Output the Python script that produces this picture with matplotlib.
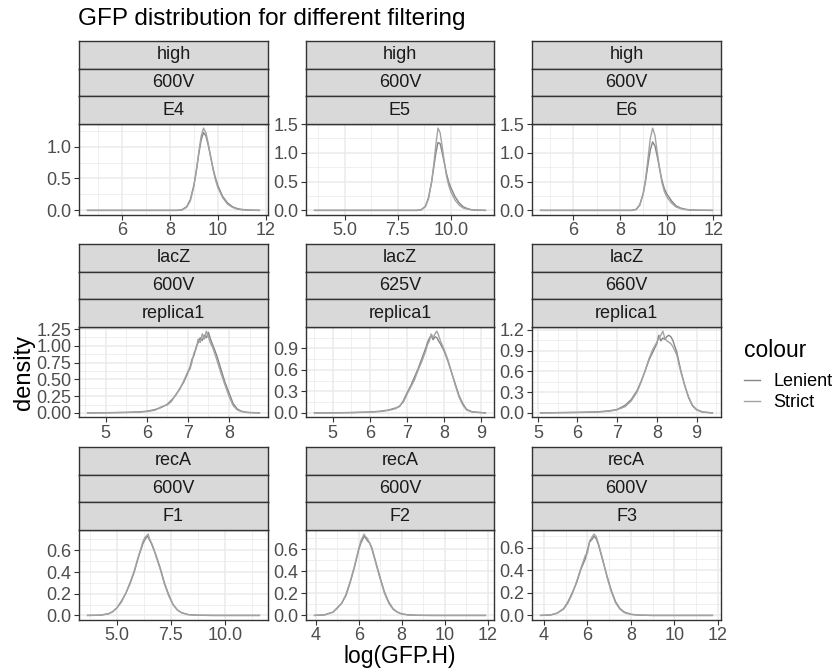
"""
GFP density per strain / voltage / replicate, Lenient vs Strict filtering.
Writes out.png (838x670).
"""
import matplotlib
matplotlib.use("Agg")
import matplotlib.pyplot as plt
from matplotlib.ticker import AutoMinorLocator

plt.rcParams["font.family"] = ["Liberation Sans", "DejaVu Sans"]

# ---------------------------------------------------------------------------
# data (density curves, one x grid per panel)
# ---------------------------------------------------------------------------
strips = [("high", "600V", "E4"), ("high", "600V", "E5"), ("high", "600V", "E6"),
          ("lacZ", "600V", "replica1"), ("lacZ", "625V", "replica1"),
          ("lacZ", "660V", "replica1"),
          ("recA", "600V", "F1"), ("recA", "600V", "F2"), ("recA", "600V", "F3")]

x_e4 = [4.55, 8.3, 8.5, 8.7, 8.85, 9.0, 9.1, 9.2, 9.3, 9.4, 9.5, 9.6, 9.7, 9.8,
        9.9, 10.0, 10.2, 10.4, 10.6, 10.8, 11.0, 11.3, 11.74]
len_e4 = [0, 0, 0.01, 0.06, 0.17, 0.40, 0.62, 0.88, 1.10, 1.22, 1.17, 1.02, 0.84,
          0.66, 0.51, 0.39, 0.22, 0.12, 0.06, 0.03, 0.015, 0.005, 0]
str_e4 = [0, 0, 0.005, 0.05, 0.15, 0.38, 0.62, 0.90, 1.16, 1.29, 1.22, 1.05, 0.84,
          0.64, 0.48, 0.36, 0.20, 0.10, 0.05, 0.02, 0.01, 0.003, 0]

x_e5 = [3.57, 8.4, 8.6, 8.8, 8.95, 9.1, 9.2, 9.3, 9.4, 9.5, 9.6, 9.7, 9.8, 9.9,
        10.0, 10.2, 10.4, 10.6, 10.8, 11.0, 11.3, 11.64]
len_e5 = [0, 0, 0.01, 0.07, 0.22, 0.50, 0.75, 1.00, 1.18, 1.16, 1.00, 0.82, 0.64,
          0.50, 0.40, 0.24, 0.13, 0.06, 0.03, 0.01, 0.004, 0]
str_e5 = [0, 0, 0.008, 0.06, 0.20, 0.50, 0.80, 1.15, 1.43, 1.35, 1.10, 0.84, 0.60,
          0.44, 0.33, 0.18, 0.09, 0.04, 0.02, 0.008, 0.003, 0]

x_e6 = [4.6, 8.5, 8.7, 8.85, 9.0, 9.1, 9.2, 9.3, 9.4, 9.5, 9.6, 9.7, 9.8, 9.9,
        10.0, 10.2, 10.4, 10.6, 10.8, 11.0, 11.4, 11.96]
len_e6 = [0, 0, 0.02, 0.10, 0.30, 0.52, 0.80, 1.05, 1.19, 1.12, 0.93, 0.72, 0.52,
          0.38, 0.29, 0.17, 0.08, 0.04, 0.02, 0.008, 0.002, 0]
str_e6 = [0, 0, 0.015, 0.09, 0.30, 0.55, 0.90, 1.25, 1.43, 1.30, 1.00, 0.72, 0.48,
          0.33, 0.24, 0.13, 0.06, 0.03, 0.015, 0.006, 0.002, 0]

x_l600 = [4.56, 5.0, 5.5, 5.8, 6.0, 6.2, 6.35, 6.5, 6.6, 6.7, 6.8, 6.9, 7.0, 7.05,
          7.1, 7.15, 7.2, 7.25, 7.3, 7.35, 7.4, 7.45, 7.5, 7.55, 7.6, 7.7, 7.8,
          7.9, 8.0, 8.1, 8.2, 8.3, 8.45, 8.74]
len_l600 = [0, 0.003, 0.008, 0.015, 0.025, 0.05, 0.08, 0.13, 0.19, 0.26, 0.36,
            0.46, 0.60, 0.68, 0.80, 0.86, 0.98, 1.05, 1.12, 1.08, 1.16, 1.12, 1.20,
            1.10, 1.02, 0.86, 0.66, 0.46, 0.30, 0.14, 0.06, 0.025, 0.008, 0]
str_l600 = [0, 0.002, 0.006, 0.012, 0.02, 0.04, 0.09, 0.12, 0.17, 0.27, 0.35,
            0.48, 0.62, 0.65, 0.76, 0.90, 0.95, 1.10, 1.05, 1.18, 1.10, 1.22, 1.13,
            1.04, 0.98, 0.80, 0.60, 0.42, 0.25, 0.11, 0.045, 0.02, 0.005, 0]

x_l625 = [4.51, 5.0, 5.5, 6.0, 6.3, 6.5, 6.7, 6.8, 6.9, 7.0, 7.1, 7.2, 7.3, 7.4,
          7.5, 7.55, 7.6, 7.65, 7.7, 7.75, 7.8, 7.85, 7.9, 8.0, 8.1, 8.2, 8.3,
          8.4, 8.5, 8.6, 8.75, 9.11]
len_l625 = [0, 0.002, 0.005, 0.012, 0.025, 0.04, 0.07, 0.09, 0.17, 0.28, 0.38,
            0.50, 0.62, 0.76, 0.90, 0.98, 1.04, 1.08, 1.02, 1.06, 1.05, 1.00, 0.96,
            0.86, 0.72, 0.56, 0.40, 0.24, 0.13, 0.05, 0.015, 0]
str_l625 = [0, 0.001, 0.004, 0.010, 0.02, 0.035, 0.06, 0.10, 0.15, 0.26, 0.36,
            0.46, 0.60, 0.72, 0.86, 0.95, 1.00, 1.10, 1.05, 1.10, 1.14, 1.08, 1.00,
            0.88, 0.74, 0.56, 0.38, 0.22, 0.11, 0.04, 0.012, 0]

x_l660 = [5.07, 5.5, 6.0, 6.5, 6.8, 7.0, 7.2, 7.35, 7.5, 7.6, 7.7, 7.8, 7.9, 8.0,
          8.05, 8.1, 8.15, 8.2, 8.25, 8.3, 8.35, 8.4, 8.5, 8.6, 8.7, 8.8, 8.9,
          9.0, 9.15, 9.4]
len_l660 = [0, 0.004, 0.008, 0.015, 0.03, 0.05, 0.11, 0.19, 0.32, 0.45, 0.60,
            0.76, 0.88, 1.00, 1.12, 1.04, 1.08, 1.06, 1.10, 1.12, 1.10, 1.05, 0.88,
            0.62, 0.40, 0.22, 0.10, 0.045, 0.012, 0]
str_l660 = [0, 0.003, 0.006, 0.012, 0.025, 0.045, 0.09, 0.17, 0.30, 0.44, 0.60,
            0.78, 0.92, 1.02, 1.08, 1.12, 1.18, 1.08, 1.04, 1.02, 1.00, 0.96, 0.84,
            0.60, 0.40, 0.23, 0.11, 0.05, 0.015, 0]

x_f1 = [3.64, 4.2, 4.6, 4.8, 5.0, 5.2, 5.4, 5.6, 5.8, 6.0, 6.1, 6.2, 6.3, 6.4,
        6.45, 6.5, 6.6, 6.7, 6.8, 7.0, 7.2, 7.4, 7.6, 7.8, 8.0, 8.3, 8.7, 9.5, 11.6]
len_f1 = [0, 0.002, 0.015, 0.035, 0.07, 0.13, 0.20, 0.29, 0.40, 0.54, 0.60, 0.66,
          0.70, 0.73, 0.72, 0.70, 0.66, 0.61, 0.56, 0.44, 0.30, 0.19, 0.10, 0.05,
          0.025, 0.008, 0.002, 0, 0]
str_f1 = [0, 0.002, 0.014, 0.033, 0.07, 0.12, 0.20, 0.30, 0.41, 0.55, 0.61, 0.68,
          0.72, 0.74, 0.75, 0.71, 0.67, 0.62, 0.55, 0.43, 0.29, 0.18, 0.10, 0.05,
          0.024, 0.007, 0.002, 0, 0]

x_f2 = [3.94, 4.4, 4.8, 5.0, 5.2, 5.4, 5.6, 5.8, 6.0, 6.1, 6.2, 6.25, 6.3, 6.4,
        6.5, 6.6, 6.7, 6.8, 7.0, 7.2, 7.4, 7.6, 7.8, 8.0, 8.3, 8.8, 9.5, 11.9]
len_f2 = [0, 0.005, 0.03, 0.07, 0.11, 0.18, 0.30, 0.44, 0.60, 0.66, 0.70, 0.72,
          0.71, 0.68, 0.66, 0.62, 0.55, 0.48, 0.34, 0.21, 0.12, 0.06, 0.03, 0.015,
          0.005, 0.001, 0, 0]
str_f2 = [0, 0.005, 0.03, 0.065, 0.11, 0.19, 0.31, 0.45, 0.61, 0.68, 0.72, 0.74,
          0.72, 0.70, 0.66, 0.61, 0.54, 0.47, 0.33, 0.20, 0.11, 0.055, 0.028,
          0.013, 0.004, 0.001, 0, 0]

x_f3 = [3.84, 4.3, 4.6, 4.9, 5.1, 5.3, 5.5, 5.7, 5.9, 6.0, 6.1, 6.2, 6.3, 6.4,
        6.5, 6.6, 6.7, 6.9, 7.1, 7.3, 7.5, 7.7, 8.0, 8.4, 9.0, 11.76]
len_f3 = [0, 0.004, 0.02, 0.06, 0.12, 0.20, 0.29, 0.41, 0.50, 0.58, 0.65, 0.67,
          0.70, 0.68, 0.63, 0.56, 0.49, 0.35, 0.22, 0.12, 0.06, 0.03, 0.01, 0.003,
          0, 0]
str_f3 = [0, 0.004, 0.02, 0.055, 0.11, 0.19, 0.30, 0.42, 0.53, 0.55, 0.66, 0.69,
          0.72, 0.70, 0.64, 0.57, 0.50, 0.34, 0.21, 0.11, 0.055, 0.025, 0.009,
          0.002, 0, 0]

xs = [x_e4, x_e5, x_e6, x_l600, x_l625, x_l660, x_f1, x_f2, x_f3]
lenient = [len_e4, len_e5, len_e6, len_l600, len_l625, len_l660, len_f1, len_f2, len_f3]
strict = [str_e4, str_e5, str_e6, str_l600, str_l625, str_l660, str_f1, str_f2, str_f3]

# tick breaks / labels per panel (free scales)
xticks = [[6, 8, 10, 12], [5, 7.5, 10], [6, 8, 10, 12],
          [5, 6, 7, 8], [5, 6, 7, 8, 9], [5, 6, 7, 8, 9],
          [5, 7.5, 10], [4, 6, 8, 10, 12], [4, 6, 8, 10, 12]]
xlabels = [["6", "8", "10", "12"], ["5.0", "7.5", "10.0"], ["6", "8", "10", "12"],
           ["5", "6", "7", "8"], ["5", "6", "7", "8", "9"], ["5", "6", "7", "8", "9"],
           ["5.0", "7.5", "10.0"], ["4", "6", "8", "10", "12"], ["4", "6", "8", "10", "12"]]
yticks = [[0, 0.5, 1.0], [0, 0.5, 1.0, 1.5], [0, 0.5, 1.0, 1.5],
          [0, 0.25, 0.5, 0.75, 1.0, 1.25], [0, 0.3, 0.6, 0.9], [0, 0.3, 0.6, 0.9, 1.2],
          [0, 0.2, 0.4, 0.6], [0, 0.2, 0.4, 0.6], [0, 0.2, 0.4, 0.6]]
ylabels = [["0.0", "0.5", "1.0"], ["0.0", "0.5", "1.0", "1.5"], ["0.0", "0.5", "1.0", "1.5"],
           ["0.00", "0.25", "0.50", "0.75", "1.00", "1.25"], ["0.0", "0.3", "0.6", "0.9"],
           ["0.0", "0.3", "0.6", "0.9", "1.2"],
           ["0.0", "0.2", "0.4", "0.6"], ["0.0", "0.2", "0.4", "0.6"], ["0.0", "0.2", "0.4", "0.6"]]

series = ["Lenient", "Strict"]
colors = {"Lenient": "#858585", "Strict": "#a3a3a3"}

# ---------------------------------------------------------------------------
W, H = 838, 670
fig = plt.figure(figsize=(W / 100, H / 100), dpi=100)

col_x = [(79, 268), (306, 494), (532, 721)]
row_y = [(124, 214.5), (327, 417), (530, 619.5)]
strip_h = 27.7
GRID = "#ebebeb"
DARK = "#333333"


def box(x0, y0, x1, y1):
    # pixel box (top-left origin) -> figure fraction rect
    return [x0 / W, 1 - y1 / H, (x1 - x0) / W, (y1 - y0) / H]


handles = []
for i in range(9):
    r, c = divmod(i, 3)
    x0, x1 = col_x[c]
    y0, y1 = row_y[r]
    ax = fig.add_axes(box(x0, y0, x1, y1))
    lines = []
    for name, vals in zip(series, [lenient[i], strict[i]]):
        ln, = ax.plot(xs[i], vals, color=colors[name], lw=1.0, label=name)
        lines.append(ln)
    if i == 0:
        handles = lines
    ax.margins(x=0.05, y=0.05)
    ax.set_xticks(xticks[i], xlabels[i])
    ax.set_yticks(yticks[i], ylabels[i])
    ax.xaxis.set_minor_locator(AutoMinorLocator(2))
    ax.yaxis.set_minor_locator(AutoMinorLocator(2))
    ax.grid(which="major", color=GRID, lw=1.1)
    ax.grid(which="minor", color=GRID, lw=0.55)
    ax.set_axisbelow(True)
    ax.tick_params(which="major", length=3.5, width=0.8, color=DARK,
                   labelsize=13, labelcolor="#4d4d4d", pad=2)
    ax.tick_params(which="minor", length=0)
    for s in ax.spines.values():
        s.set_color(DARK)
        s.set_linewidth(1.0)

    # three stacked strips above each panel
    for k, lab in enumerate(strips[i]):
        top = y0 - strip_h * (3 - k)
        sax = fig.add_axes(box(x0, top, x1, top + strip_h))
        sax.set_facecolor("#d9d9d9")
        sax.set_xticks([]); sax.set_yticks([])
        for s in sax.spines.values():
            s.set_color(DARK)
            s.set_linewidth(1.0)
        sax.text(0.5, 0.5, lab, ha="center", va="center", fontsize=13,
                 color="#1a1a1a", transform=sax.transAxes)

fig.text(78 / W, 1 - 19 / H, "GFP distribution for different filtering",
         fontsize=17.5, ha="left", va="center")
fig.text(400 / W, 1 - 656 / H, "log(GFP.H)", fontsize=16.5, ha="center", va="center")
fig.text(24 / W, 1 - 372 / H, "density", fontsize=17, ha="center", va="center",
         rotation=90)

leg = fig.legend(handles, series, loc="upper left",
                 bbox_to_anchor=(737 / W, 1 - 332 / H), frameon=False,
                 title="colour", title_fontsize=16.5, fontsize=13,
                 handlelength=0.85, handletextpad=0.75, labelspacing=0.2,
                 alignment="left", borderaxespad=0)
leg._legend_box.sep = 8

fig.savefig("out.png", dpi=100)
